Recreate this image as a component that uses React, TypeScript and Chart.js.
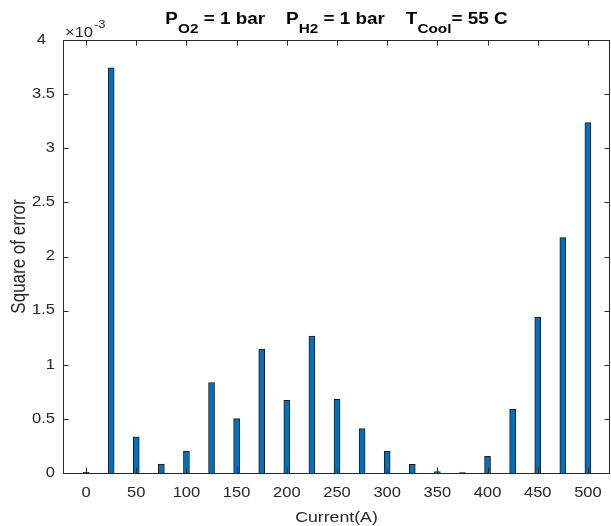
import React, { useEffect, useRef } from "react";
import { Chart, registerables } from "chart.js";

Chart.register(...registerables);

const currents = [0, 25, 50, 75, 100, 125, 150, 175, 200, 225, 250, 275, 300, 325, 350, 375, 400, 425, 450, 475, 500];
const squareError = [
  0.000006, 0.003744, 0.000335, 0.000083, 0.000203, 0.000836, 0.000502, 0.001143, 0.000672, 0.001266,
  0.00068, 0.00041, 0.0002, 0.00008, 0.000012, 0.000005, 0.000154, 0.000588, 0.001438, 0.002174, 0.003236,
];
const xTicks = [0, 50, 100, 150, 200, 250, 300, 350, 400, 450, 500];
const xTickLabels = ["0", "50", "100", "150", "200", "250", "300", "350", "400", "450", "500"];
const yTicks = [0, 0.0005, 0.001, 0.0015, 0.002, 0.0025, 0.003, 0.0035, 0.004];
const yTickLabels = ["0", "0.5", "1", "1.5", "2", "2.5", "3", "3.5", "4"];
const exponentBase = "×10";
const exponentPower = "-3";
const titleParts = [
  { text: "P", sub: false },
  { text: "O2", sub: true },
  { text: " = 1 bar    P", sub: false },
  { text: "H2", sub: true },
  { text: " = 1 bar    T", sub: false },
  { text: "Cool", sub: true },
  { text: "= 55 C", sub: false },
];
const xLabel = "Current(A)";
const yLabel = "Square of error";

const FONT = '"Liberation Sans", Arial, Helvetica, sans-serif';
const TEXT = "#262626";
const SX = 1.18;

function drawText(
  ctx: CanvasRenderingContext2D,
  text: string,
  x: number,
  y: number,
  font: string,
  align: CanvasTextAlign,
  baseline: CanvasTextBaseline
) {
  ctx.save();
  ctx.font = font;
  ctx.textAlign = align;
  ctx.textBaseline = baseline;
  ctx.translate(x, y);
  ctx.scale(SX, 1);
  ctx.fillText(text, 0, 0);
  ctx.restore();
}

const overlay = {
  id: "matlabOverlay",
  afterDatasetsDraw(chart: any) {
    const ctx = chart.ctx as CanvasRenderingContext2D;
    const { left, right, top, bottom } = chart.chartArea;
    const xs = chart.scales.x;
    const ys = chart.scales.y;
    ctx.save();
    ctx.strokeStyle = TEXT;
    ctx.lineWidth = 1;
    const tl = 5.5;
    ctx.beginPath();
    xTicks.forEach((v) => {
      const px = Math.round(xs.getPixelForValue(v)) + 0.5;
      ctx.moveTo(px, bottom);
      ctx.lineTo(px, bottom - tl);
      ctx.moveTo(px, top);
      ctx.lineTo(px, top + tl);
    });
    yTicks.forEach((v) => {
      const py = Math.round(ys.getPixelForValue(v)) + 0.5;
      ctx.moveTo(left, py);
      ctx.lineTo(left + tl, py);
      ctx.moveTo(right, py);
      ctx.lineTo(right - tl, py);
    });
    ctx.stroke();
    ctx.beginPath();
    ctx.rect(Math.round(left) + 0.5, Math.round(top) + 0.5, Math.round(right - left) - 1, Math.round(bottom - top));
    ctx.stroke();

    ctx.fillStyle = TEXT;
    const tickFont = `14px ${FONT}`;
    xTicks.forEach((v, i) => {
      drawText(ctx, xTickLabels[i], xs.getPixelForValue(v), bottom + 24, tickFont, "center", "alphabetic");
    });
    yTicks.forEach((v, i) => {
      const shift = i === yTicks.length - 1 ? 9 : 0;
      drawText(ctx, yTickLabels[i], left - 8 - shift, ys.getPixelForValue(v), tickFont, "right", "middle");
    });

    // exponent
    drawText(ctx, exponentBase, left + 2, 37, `14px ${FONT}`, "left", "alphabetic");
    ctx.font = `14px ${FONT}`;
    const bw = ctx.measureText(exponentBase).width * SX;
    drawText(ctx, exponentPower, left + 3 + bw, 28, `11px ${FONT}`, "left", "alphabetic");

    // x label
    drawText(ctx, xLabel, (left + right) / 2, 522, `15px ${FONT}`, "center", "alphabetic");

    // y label
    ctx.save();
    ctx.font = `17px ${FONT}`;
    ctx.textAlign = "center";
    ctx.textBaseline = "alphabetic";
    ctx.translate(25, (top + bottom) / 2);
    ctx.rotate(-Math.PI / 2);
    ctx.scale(1, SX);
    ctx.fillText(yLabel, 0, 0);
    ctx.restore();

    // title
    ctx.fillStyle = "#000";
    const mainFont = `bold 16px ${FONT}`;
    const subFont = `bold 13px ${FONT}`;
    let total = 0;
    titleParts.forEach((p) => {
      ctx.font = p.sub ? subFont : mainFont;
      total += ctx.measureText(p.text).width * SX;
    });
    let cx = (left + right) / 2 - total / 2;
    titleParts.forEach((p) => {
      const f = p.sub ? subFont : mainFont;
      drawText(ctx, p.text, cx, p.sub ? 33 : 24, f, "left", "alphabetic");
      ctx.font = f;
      cx += ctx.measureText(p.text).width * SX;
    });
    ctx.restore();
  },
};

export default function App() {
  const ref = useRef<HTMLCanvasElement | null>(null);
  useEffect(() => {
    if (!ref.current) return;
    const chart = new Chart(ref.current, {
      type: "bar",
      data: {
        datasets: [
          {
            data: currents.map((x, i) => ({ x, y: squareError[i] })),
            backgroundColor: "#0072BD",
            borderColor: "#1a1a1a",
            borderWidth: 1,
            borderSkipped: "bottom",
            barThickness: 6,
          } as any,
        ],
      },
      options: {
        responsive: false,
        animation: false,
        events: [],
        layout: { padding: { top: 40, right: 1, left: 0, bottom: 0 } },
        plugins: { legend: { display: false }, title: { display: false }, tooltip: { enabled: false } },
        scales: {
          x: {
            type: "linear",
            min: -23,
            max: 522,
            offset: false,
            grid: { display: false },
            border: { display: false },
            afterBuildTicks: (s: any) => {
              s.ticks = xTicks.map((v) => ({ value: v }));
            },
            afterFit: (s: any) => {
              s.height = 53;
            },
            ticks: { display: false },
          },
          y: {
            type: "linear",
            min: 0,
            max: 0.004,
            grid: { display: false },
            border: { display: false },
            afterBuildTicks: (s: any) => {
              s.ticks = yTicks.map((v) => ({ value: v }));
            },
            afterFit: (s: any) => {
              s.width = 63;
            },
            ticks: { display: false },
          },
        },
      },
      plugins: [overlay],
    });
    return () => chart.destroy();
  }, []);
  return (
    <div style={{ position: "absolute", left: 0, top: 0, width: 611, height: 526, background: "#fff" }}>
      <canvas ref={ref} width={611} height={526} style={{ display: "block" }} />
    </div>
  );
}
